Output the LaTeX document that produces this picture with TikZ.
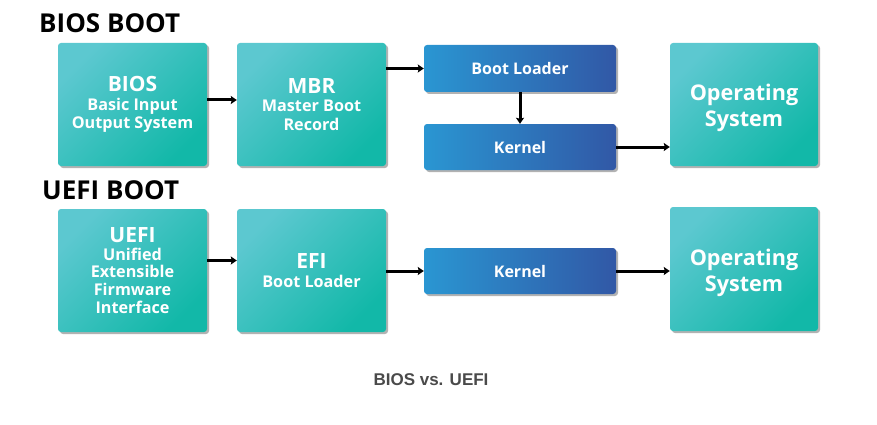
\documentclass[tikz,border=0pt]{standalone}
\usepackage{fontspec}
\setmainfont{Open Sans}
\newfontfamily\capfont{Liberation Sans}
\usetikzlibrary{shadows,arrows.meta}
\definecolor{tealL}{HTML}{5CC8D0}
\definecolor{tealD}{HTML}{12B8A8}
\definecolor{blueL}{HTML}{2A96D2}
\definecolor{blueM}{HTML}{2577BD}
\definecolor{blueD}{HTML}{3158A6}
\definecolor{capgray}{HTML}{4A4A4A}
\tikzset{
  boxshadow/.style={drop shadow={shadow xshift=2pt,shadow yshift=-2pt,opacity=0.3,fill=black}},
  tealbox/.style={rounded corners=3pt,inner sep=0pt,align=center,text=white,
    minimum width=149pt,minimum height=123pt,boxshadow,
    left color=tealL,right color=tealD,shading angle=45,font=\bfseries\fontsize{16.2}{18.7}\selectfont},
  osbox/.style={tealbox,minimum width=148pt,font=\bfseries\fontsize{21.6}{26}\selectfont},
  bluebox/.style={rounded corners=3pt,inner sep=0pt,align=center,text=white,
    minimum width=192pt,minimum height=46pt,boxshadow,
    left color=blueL,middle color=blueM,right color=blueD,font=\bfseries\fontsize{16}{18}\selectfont},
  title/.style={font=\bfseries\fontsize{26}{30}\selectfont,text=black,inner sep=0pt,anchor=west},
  arr/.style={line width=3pt,-{Stealth[length=6pt,width=8pt,inset=1pt]}},
}
\newcommand{\bigt}[1]{{\fontsize{21}{24}\selectfont #1}}
\newcommand{\osstrut}{\rule{0pt}{24pt}}
\begin{document}
\begin{tikzpicture}[x=1pt,y=-1pt]
\useasboundingbox (0,0) rectangle (877,425);
\node[title] (t1) at (39,23) {BIOS BOOT};
\node[title] (t2) at (42,190) {UEFI BOOT};

\node[tealbox] (bios) at (132.5,104.5) {\bigt{BIOS}\\Basic Input\\Output System};
\node[tealbox] (mbr) at (311.5,104.5) {\bigt{MBR}\\Master Boot\\Record};
\node[bluebox,minimum height=47pt] (bl) at (520,68.5) {Boot Loader};
\node[bluebox] (k1) at (520,147) {Kernel};
\node[osbox] (os1) at (744,104.5) {\osstrut Operating\\System};

\node[tealbox,font=\bfseries\fontsize{16.2}{17.6}\selectfont] (uefi) at (132.5,270.5) {\bigt{UEFI}\\Unified\\Extensible\\Firmware\\Interface};
\node[tealbox] (efi) at (311.5,270.5) {\bigt{EFI}\\Boot Loader};
\node[bluebox] (k2) at (520,271) {Kernel};
\node[osbox,minimum height=124pt] (os2) at (744,269) {\osstrut Operating\\System};

\draw[arr] ([yshift=4.5pt]bios.east) -- ([yshift=4.5pt]mbr.west);
\draw[arr] (mbr.east |- bl.west) -- (bl.west);
\draw[arr] (bl.south) -- (k1.north);
\draw[arr] (k1.east) -- (k1.east -| os1.west);
\draw[arr] ([yshift=10pt]uefi.east) -- ([yshift=10pt]efi.west);
\draw[arr] (efi.east |- k2.west) -- (k2.west);
\draw[arr] (k2.east) -- (k2.east -| os2.west);

\node[font=\capfont\bfseries\fontsize{17}{20}\selectfont,text=capgray] (cap) at (431,380) {BIOS vs. UEFI};
\end{tikzpicture}
\end{document}
